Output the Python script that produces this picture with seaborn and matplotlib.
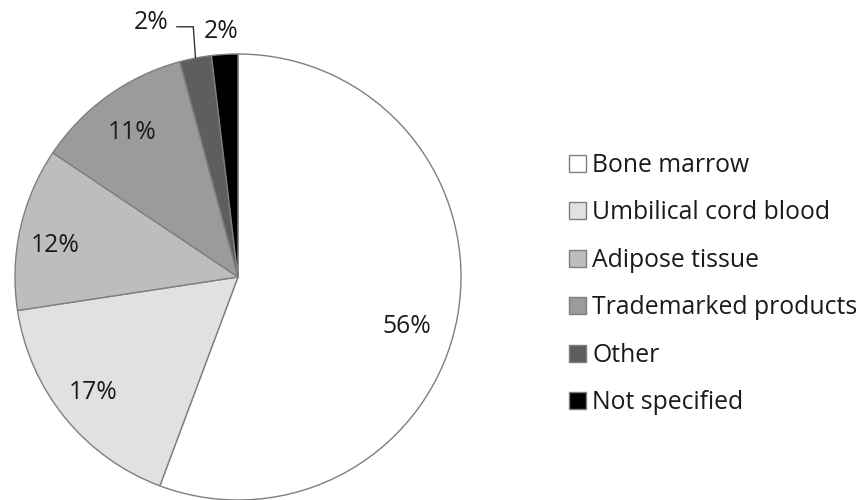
import matplotlib
matplotlib.use("Agg")
import matplotlib.pyplot as plt
import seaborn as sns
from matplotlib.patches import Patch
import numpy as np

# ---- data ----
categories = ["Bone marrow", "Umbilical cord blood", "Adipose tissue",
              "Trademarked products", "Other", "Not specified"]
shares = [55.7, 16.9, 11.8, 11.4, 2.3, 1.9]
pct_labels = ["56%", "17%", "12%", "11%", "2%", "2%"]

# ---- style ----
colors = ["#ffffff", "#e1e1e1", "#bdbdbd", "#9b9b9b", "#5e5e5e", "#000000"]
edge = "#7f7f7f"
sns.set_theme(style="white")
plt.rcParams["font.family"] = ["Open Sans", "DejaVu Sans"]
FS = 17.8

W, H = 861, 500
fig = plt.figure(figsize=(W / 100, H / 100), dpi=100)
cx, cy, r = 238, 277, 223
ax = fig.add_axes([(cx - r) / W, (H - cy - r) / H, 2 * r / W, 2 * r / H])

wedges, _ = ax.pie(shares, colors=colors, startangle=90, counterclock=False,
                   wedgeprops=dict(edgecolor=edge, linewidth=1.0))
ax.set_xlim(-1, 1)
ax.set_ylim(-1, 1)
ax.set_aspect("auto")
ax.axis("off")

# label layout (data units of the pie)
label_xy = [(0.758, -0.220), (-0.650, -0.516), (-0.821, 0.143),
            (-0.475, 0.646), (-0.39, 1.140), (-0.076, 1.103)]
for i, (txt, (x, y)) in enumerate(zip(pct_labels, label_xy)):
    ax.text(x, y, txt, ha="center", va="center", fontsize=FS,
            color="#1a1a1a", clip_on=False)

# leader line for "Other"
w = wedges[4]
mid = np.deg2rad((w.theta1 + w.theta2) / 2)
ex, ey = np.cos(mid), np.sin(mid)
tx, ty = label_xy[4]
ly = ty - 0.018
ax.plot([tx + 0.115, ex - 0.01, ex], [ly, ly, ey], color="#333333",
        lw=1.0, clip_on=False, solid_joinstyle="miter")

# legend
handles = [Patch(facecolor=c, edgecolor=edge, linewidth=1.0) for c in colors]
fig.legend(handles, categories, loc="upper left",
           bbox_to_anchor=(569 / W, 1 - 153 / H), frameon=False,
           fontsize=FS, handlelength=0.69, handleheight=0.69,
           handletextpad=0.25, labelspacing=0.91, borderpad=0,
           borderaxespad=0, labelcolor="#1a1a1a")

fig.savefig("out.png", dpi=100, facecolor="white")
